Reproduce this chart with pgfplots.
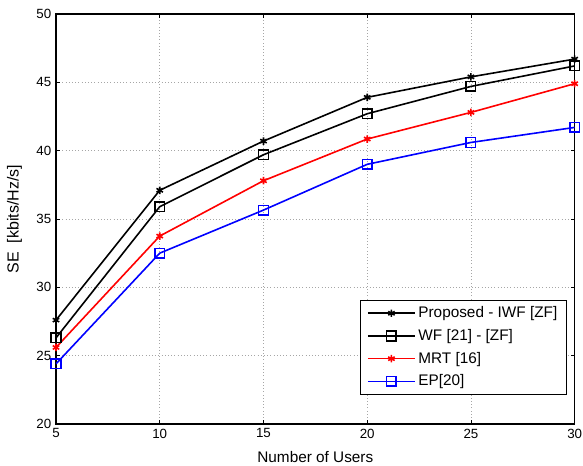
\documentclass[border=0pt]{standalone}
\usepackage{fontspec}
\setmainfont{Liberation Sans}
\usepackage{pgfplots}
\pgfplotsset{compat=1.18}
\begin{document}
\begin{tikzpicture}
\begin{axis}[
  at={(0,0)}, anchor=south west,
  scale only axis, width=389pt, height=307.5pt,
  xmin=5, xmax=30, ymin=20, ymax=50,
  xtick={5,10,...,30}, ytick={20,25,...,50},
  grid=major, grid style={dotted, gray!70, line width=0.6pt},
  tick align=inside, tick pos=both,
  major tick length=3pt,
  axis line style={line width=0.8pt},
  tick style={black, line width=0.6pt},
  /pgf/number format/assume math mode=true,
  ticklabel style={font=\fontsize{10}{12}\selectfont},
  xlabel style={font=\fontsize{11.5}{13}\selectfont, yshift=-3pt},
  ylabel style={font=\fontsize{12}{14}\selectfont, yshift=4pt},
  xlabel={Number of Users}, ylabel={SE\ \ [kbits/Hz/s]},
  legend style={at={(0.985,0.071)}, anchor=south east, font=\fontsize{11.5}{13}\selectfont,
    draw=black, inner xsep=5pt, inner ysep=3pt, row sep=3.2pt, cells={anchor=west}},
  legend cell align=left,
  legend image code/.code={\draw[#1, mark repeat=2, mark phase=2] plot coordinates {(0cm,0cm) (0.62cm,0cm) (1.24cm,0cm)};},
]
\addplot[black, line width=1.2pt, mark=asterisk, mark size=2.8pt, mark options={line width=1.2pt}] coordinates {
(5,27.6) (10,37.1) (15,40.7) (20,43.9) (25,45.4) (30,46.7)};
\addlegendentry{Proposed - IWF [ZF]}
\addplot[black, line width=1.2pt, mark=square, mark size=3.6pt, mark options={line width=1.1pt}] coordinates {
(5,26.3) (10,35.9) (15,39.7) (20,42.7) (25,44.7) (30,46.2)};
\addlegendentry{WF [21] - [ZF]}
\addplot[red, line width=1.2pt, mark=asterisk, mark size=2.8pt, mark options={line width=1.2pt}] coordinates {
(5,25.6) (10,33.75) (15,37.8) (20,40.85) (25,42.8) (30,44.9)};
\addlegendentry{MRT [16]}
\addplot[blue, line width=1.2pt, mark=square, mark size=3.6pt, mark options={line width=1.1pt}] coordinates {
(5,24.4) (10,32.5) (15,35.65) (20,39.0) (25,40.6) (30,41.7)};
\addlegendentry{EP[20]}
\end{axis}
\pgfresetboundingbox
\path[use as bounding box] (-42pt,-31.5pt) rectangle (395.25pt,318pt);
\end{tikzpicture}
\end{document}
